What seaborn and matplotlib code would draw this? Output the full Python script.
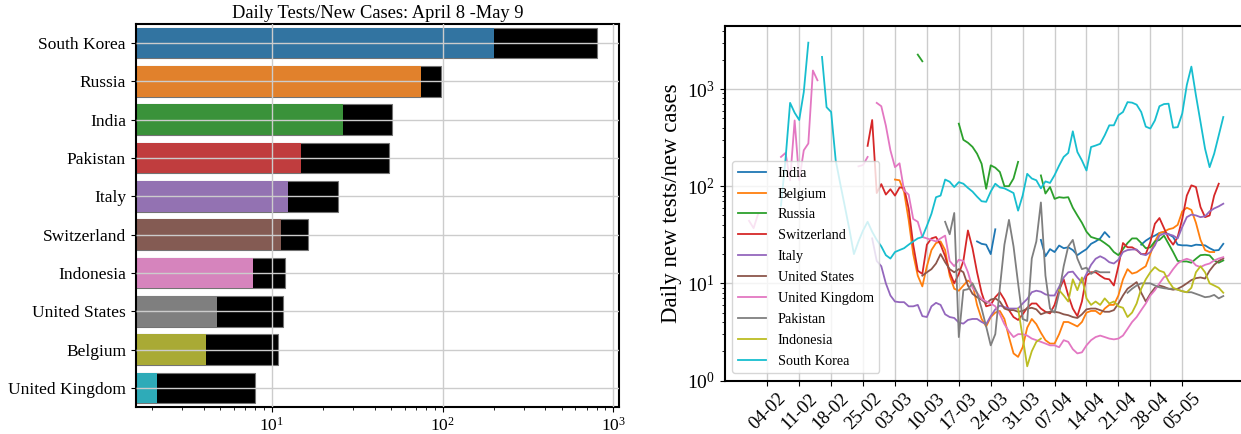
import numpy as np
import pandas as pd
import matplotlib
matplotlib.use("Agg")
import matplotlib.pyplot as plt
import matplotlib.dates as mdates
import seaborn as sns

nan = np.nan

# ---------------- left chart data ----------------
bar_countries = ["South Korea", "Russia", "India", "Pakistan", "Italy",
                 "Switzerland", "Indonesia", "United States", "Belgium",
                 "United Kingdom"]
bar_inner = [199, 74.6, 26.1, 14.8, 12.5, 11.3, 7.77, 4.80, 4.14, 2.14]
bar_outer = [801, 97.8, 50.3, 48.9, 24.5, 16.4, 12.0, 11.6, 10.9, 7.95]
title_text = "Daily Tests/New Cases: April 8 -May 9"

# ---------------- right chart data (daily, 31 Jan .. 14 May 2020) ----------------
first_day = "2020-01-31"
n_days = 105
tick_dates = ["2020-02-04", "2020-02-11", "2020-02-18", "2020-02-25",
              "2020-03-03", "2020-03-10", "2020-03-17", "2020-03-24",
              "2020-03-31", "2020-04-07", "2020-04-14", "2020-04-21",
              "2020-04-28", "2020-05-05"]
ylabel_text = "Daily new tests/new cases"

india = ([nan] * 50 + [27, 25.5, 25, 20, 36] + [nan] * 9 +
         [28, 19, 22.5, 21, 24.5, 23, 23.5, 22, 19.5, 21] +
         [22.5, 25.5, 27, 29, 33.7, 30] + [nan] * 6 +
         [25, 27.5, 29.5, 31, 33, 33.7, 32, 30] +
         [25, 24.6, 24.6, 24.2, 25, 24.8, 24.6, 23, 21.8, 22, 25.5])
belgium = ([nan] * 32 + [117, 115] +
           [87, 45, 20, 12, 9.3, 15, 22, 26, 27, 22] +
           [12, 8.8, 8.4, 9.5, 10.7, 9.9, 6, 4.3, 3.6, 4.5] +
           [5.0, 5.2, 4.3, 2.8, 1.9, 1.75, 2.2, 3.5, 4.3, 3.8] +
           [3.1, 2.6, 2.4, 2.4, 3.0, 4.0, 4.0, 3.8, 3.6, 4.0] +
           [5.0, 5.2, 5.2, 4.8, 5.5, 6.0, 6.0, 7.5, 11, 14] +
           [12.6, 13, 14, 15, 20, 27, 33, 34, 36, 37] +
           [40, 55, 60, 57, 42, 28, 22, 21, 21] + [nan] * 2)
russia = ([nan] * 37 + [2260, 1930] + [nan] * 7 +
          [440, 300, 280, 254, 216, 170, 94, 164] +
          [155, 140, 100, 100, 120, 178, nan, nan, nan, nan] +
          [129, 84, 98, 74, 77, 76, 77, 60, 50, 42] +
          [34, 30, 29, 28, 26, 24, 21, 19.5, 22.5, 26] +
          [29, 29, 26, 23, 23.5, 27, 28, 31, 25.5, 21] +
          [17, 16.8, 16.8, 16.3, 17.9, 19.5, 19.7, 19.4, 17.2, 16.3, 17.2])
switzerland = ([nan] * 26 + [260, 480] + [85, 105, 82, 93, 80, 97] +
               [96, 59, 25, 13.5, 12.5, 25, 29, 30, 25, 19] +
               [13, 10, 12.5, 17, 35, 23, 13, 8, 5.8, 6] +
               [7.2, 8.1, 6.8, 5.3, 4.5, 4.2, 4.8, 5.6, 6.2, 6.2] +
               [5.5, 5.1, 4.9, 6, 8.5, 11, 7.5, 5.5, 4.6, 6.5] +
               [12, 13, 13, 12, 11.2, 11, 9.5, 15, 26, 23.5] +
               [23.5, 22, 20, 20, 26.6, 41, 47, 37, 29, 25] +
               [30, 46, 80, 102, 98, 61, 48, 50, 80, 106] + [nan])
italy = ([nan] * 27 + [29, 17, 15, 10, 7.5, 6.5, 6.4] +
         [6.4, 5.8, 5.8, 6.0, 4.6, 4.5, 5.8, 6.3, 6.0, 4.8] +
         [4.5, 4.4, 3.95, 3.85, 4.2, 4.3, 4.3, 4.0, 3.8, 4.6] +
         [5.4, 5.9, 5.7, 5.5, 5.5, 5.5, 6.2, 6.9, 8.1, 8.4] +
         [8.2, 7.7, 7.5, 7.5, 9.2, 11.5, 13, 13.2, 11.5, 10.2] +
         [12.5, 15.5, 17.9, 19, 18, 16.5, 16, 17.5, 21, 22] +
         [22.3, 22.3, 20, 19.5, 21, 24.6, 31, 32.5, 32, 31] +
         [29, 38, 48, 51, 50, 48, 49, 55, 59, 62, 66])
united_states = ([nan] * 38 + [12, 13, 14, 16, 20, 16.5] +
                 [14, 13, 14, 13, 9.5, 7.8, 7.2, 6.8, 6.2, 6.8] +
                 [7.0, 6.5, 5.5, 5.3, 5.3, 5.1, 5.2, 5.5, 5.6, 5.4] +
                 [4.8, 5.0, 5.1, 5.1, 5.0, 4.8, 4.7, 4.5, 4.4, 4.8] +
                 [5.4, 5.5, 5.5, 5.3, 5.1, 5.1, 5.3, 6.2, 7.5, 8.8] +
                 [9.5, 10.3, 8, 6.5, 7.8, 9, 9.5, 9.2, 8.8, 8.6] +
                 [8.8, 9.3, 10, 10.8, 11.3, 11.5, 11.2, 13.5, 15.5, 17, 18])
united_kingdom = ([44, 37, 52] + [nan] * 4 +
                  [200, 220, 115, 475, 115, 234, 275, 1550, 1230] + [nan] * 8 +
                  [160, 165, 200] + [nan] + [720, 665, 420, 234, 157, 172] +
                  [90, 82, 46, 43, 30, 29, 28, 27, 29, 31] +
                  [17, 15, 17.5, 17, 13, 9, 8, 6.9, 6.5, 6.2] +
                  [5.8, 4.8, 3.8, 3.2, 2.8, 3.0, 3.0, 2.9, 2.7, 2.6] +
                  [2.5, 2.4, 2.3, 2.3, 2.2, 2.6, 2.5, 2.1, 1.9, 1.95] +
                  [2.3, 2.6, 2.8, 2.9, 2.8, 2.7, 2.65, 2.7, 2.9, 3.4] +
                  [4.0, 4.5, 5.3, 6.2, 7.5, 8.5, 10, 11.6, 12, 14] +
                  [16, 17.2, 17.9, 17.2, 15.3, 14.7, 15.5, 16, 17.2, 18, 18.6])
pakistan = ([nan] * 43 + [43] +
            [32, 53, 2.8, 8.5, 8.7, 10, 8, 5.5, 3.6, 2.3] +
            [3.0, 9, 25, 45, 24, 10, 4.3, 4.1, 18, 27] +
            [68, 12, 5.5, 5.0, 8, 15, 24, 28, 18, 14] +
            [14.5, 12.5, 13.5, 13, 13, 13] + [nan] * 3 + [8] +
            [8.8, 9.5, 10, 10, 10, 9.5, 9.1, 8.9, 8.8, 8.8] +
            [8.6, 8.3, 8.1, 8.1, 7.8, 7.5, 7.2, 7.3, 7.6, 7.0, 7.4])
indonesia = ([nan] * 59 + [5.5, 2.8, 1.4, 2.0, 2.5, 2.7] + [nan] * 3 +
             [8.5, 7.5, 6.5, 11, 8.5, 11.5] +
             [7.0, 6.0, 6.5, 6.0, 7.0, 6.2, 6.5, 5.8, 5.6, 4.5] +
             [5.0, 6.2, 8.8, 11, 13, 14.7, 13.5, 13, 10.5, 9] +
             [8.6, 8.3, 8.1, 9, 13, 15, 13, 10, 9.5, 9, 8])
south_korea = ([nan] * 7 + [63, 190, 720, 570, 480, 930, 3000] + [nan] * 2 +
               [2140, 650, 580, 185, 106, 62, 36, 20] +
               [27, 35, 43, 34, 28, 24, 19.5, 18, 21, 22] +
               [23, 25, 27, 29, 30, 39, 52, 77, 80, 117] +
               [111, 98, 110, 106, 96, 88, 78, 70, 69, 88] +
               [106, 97, 95, 90, 85, 56, 80, 134, 120, 115] +
               [95, 112, 108, 130, 163, 200, 220, 367, 225, 184] +
               [145, 253, 262, 273, 334, 423, 423, 537, 580, 733] +
               [724, 690, 580, 410, 392, 475, 665, 700, 706, 400] +
               [405, 560, 1100, 1700, 860, 458, 243, 157, 216, 333, 515])

line_countries = ["India", "Belgium", "Russia", "Switzerland", "Italy",
                  "United States", "United Kingdom", "Pakistan", "Indonesia",
                  "South Korea"]
line_values = [india, belgium, russia, switzerland, italy, united_states,
               united_kingdom, pakistan, indonesia, south_korea]

# ---------------- styling ----------------
plt.rcParams["font.family"] = ["Liberation Serif", "DejaVu Serif"]
plt.rcParams["axes.linewidth"] = 1.5
plt.rcParams["axes.edgecolor"] = "black"

W, H = 1241, 434
fig = plt.figure(figsize=(W / 100, H / 100), dpi=100)

# ---------------- left: bars ----------------
ax1 = fig.add_axes([135.7 / W, 1 - 407 / H, 483.3 / W, 383 / H])
sns.barplot(x=bar_outer, y=bar_countries, color="black", saturation=1,
            edgecolor="0.45", linewidth=0.8, ax=ax1)
sns.barplot(x=bar_inner, y=bar_countries, hue=bar_countries,
            palette="tab10", legend=False, ax=ax1)
ax1.set_xscale("log")
ax1.set_xlim(1.597, 1080)
ax1.set_ylim(9.5, -0.5)
ax1.set_axisbelow(False)
ax1.grid(True, which="major", color="0.8", lw=1.0)
ax1.set_xlabel("")
ax1.set_ylabel("")
ax1.tick_params(axis="both", labelsize=12.5)
ax1.set_title(title_text, fontsize=13.3, pad=4)

# ---------------- right: lines ----------------
dates = pd.date_range(first_day, periods=n_days, freq="D")
frames = []
for name, vals in zip(line_countries, line_values):
    s = pd.Series(vals, index=dates, dtype=float)
    seg = s.isna().cumsum()
    d = pd.DataFrame({"date": dates, "value": s.values, "country": name,
                      "seg": seg.values})
    frames.append(d.dropna())
df = pd.concat(frames, ignore_index=True)

palette = dict(zip(line_countries, sns.color_palette("tab10", 10)))

day_px = 4.56
x_left_days, x_right_days = -9.34, 105.2
ax2 = fig.add_axes([724.7 / W, 1 - 380.5 / H,
                    (x_right_days - x_left_days) * day_px / W, 354 / H])
sns.lineplot(data=df, x="date", y="value", hue="country", units="seg",
             estimator=None, hue_order=line_countries, palette=palette,
             lw=1.3, ax=ax2)
ax2.set_yscale("log")
ax2.set_ylim(1, 4400)
t0 = pd.Timestamp("2020-02-04")
ax2.set_xlim(t0 + pd.Timedelta(days=x_left_days), t0 + pd.Timedelta(days=x_right_days))
ax2.set_xticks(pd.to_datetime(tick_dates))
ax2.xaxis.set_major_formatter(mdates.DateFormatter("%d-%m"))
plt.setp(ax2.get_xticklabels(), rotation=45, fontsize=13.5)
ax2.tick_params(axis="y", labelsize=14)
ax2.grid(True, which="major", color="0.8", lw=1.0)
ax2.set_xlabel("")
ax2.set_ylabel(ylabel_text, fontsize=16.5)
handles, labels = ax2.get_legend_handles_labels()
ax2.legend(handles, labels, loc="lower left", fontsize=10.3,
           framealpha=0.8, labelspacing=0.55)

fig.savefig("out.png", dpi=100)
